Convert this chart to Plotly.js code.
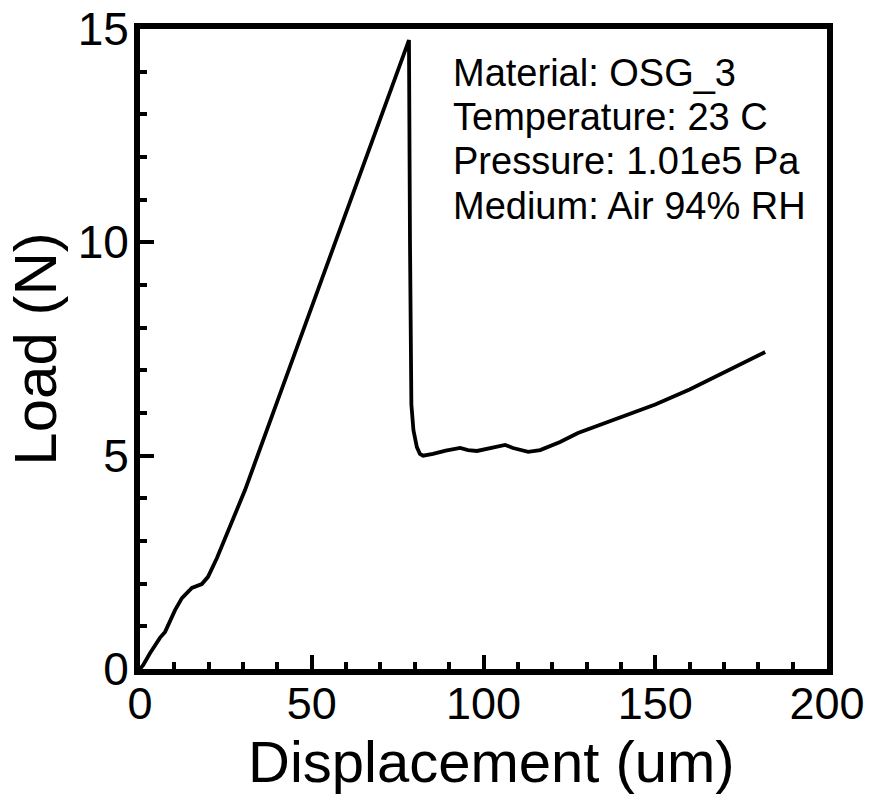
<!DOCTYPE html>
<html>
<head>
<meta charset="utf-8">
<script src="https://cdn.plot.ly/plotly-3.0.1.min.js"></script>
<style>
html,body{margin:0;padding:0;background:#fff;}
#chart{width:870px;height:812px;}
</style>
</head>
<body>
<div id="chart"></div>
<script>
// Displacement (um) and Load (N)
const displacement = [0, 0.9, 2.9, 5.8, 7.3, 10.2, 12.2, 15.1, 18.0, 19.8, 22.4, 26.2, 30.6, 40, 50, 60, 70, 78.3,
  78.6, 78.8, 79.0, 79.6, 80.6, 81.5, 82.4, 85.3, 89.0, 93.2, 95.5, 98.1, 102.0, 106.3, 108.6, 113.0, 116.5,
  122.3, 127.5, 140, 150, 160, 170, 182];
const load = [0, 0.09, 0.37, 0.73, 0.87, 1.38, 1.66, 1.90, 1.99, 2.16, 2.60, 3.33, 4.20, 6.28, 8.49, 10.70, 12.90, 14.74,
  10.0, 6.8, 6.2, 5.6, 5.2, 5.04, 5.00, 5.04, 5.12, 5.18, 5.13, 5.11, 5.17, 5.25, 5.18, 5.09, 5.13,
  5.32, 5.53, 5.90, 6.20, 6.55, 6.95, 7.43];

const xTickVals = [0, 50, 100, 150, 200];
const yTickVals = [0, 5, 10, 15];
const xTitle = "Displacement (um)";
const yTitle = "Load (N)";
const infoLines = ["Material: OSG_3", "Temperature: 23 C", "Pressure: 1.01e5 Pa", "Medium: Air 94% RH"];
const infoY = [13.96, 12.93, 11.90, 10.86];

const font = "Liberation Sans, Arial, sans-serif";

const trace = {
  x: displacement, y: load, type: "scatter", mode: "lines",
  line: {color: "#000", width: 3.8}, hoverinfo: "skip"
};

const annotations = infoLines.map((t, i) => ({
  xref: "x", yref: "y", x: 90.8, y: infoY[i], xanchor: "left", yanchor: "middle",
  text: t, align: "left", showarrow: false, borderpad: 0,
  font: {size: 38, family: font, color: "#000"}
}));
annotations.push({
  xref: "paper", yref: "paper", x: 0.511, y: -0.144, xanchor: "center", yanchor: "middle",
  text: xTitle, showarrow: false, borderpad: 0,
  font: {size: 58, family: font, color: "#000"}
});

const layout = {
  width: 870, height: 812,
  margin: {l: 140, r: 43, t: 29, b: 143},
  paper_bgcolor: "#fff", plot_bgcolor: "#fff",
  showlegend: false,
  font: {family: font, color: "#000"},
  xaxis: {
    range: [0, 200], tickvals: xTickVals, ticktext: xTickVals.map(String),
    ticks: "inside", ticklen: 14, tickwidth: 4, tickcolor: "#000",
    minor: {dtick: 10, ticks: "inside", ticklen: 7, tickwidth: 4, tickcolor: "#000", showgrid: false},
    showline: true, linewidth: 6, linecolor: "#000", mirror: true,
    showgrid: false, zeroline: false,
    ticklabelstandoff: -10,
    tickfont: {size: 45, family: font, color: "#000"}
  },
  yaxis: {
    range: [0, 15], tickvals: yTickVals, ticktext: yTickVals.map(String),
    ticks: "inside", ticklen: 14, tickwidth: 4, tickcolor: "#000",
    minor: {dtick: 1, ticks: "inside", ticklen: 7, tickwidth: 4, tickcolor: "#000", showgrid: false},
    showline: true, linewidth: 6, linecolor: "#000", mirror: true,
    showgrid: false, zeroline: false,
    ticklabelstandoff: -4,
    tickfont: {size: 46, family: font, color: "#000"},
    title: {text: yTitle, font: {size: 60, family: font, color: "#000"}, standoff: 4}
  },
  annotations: annotations
};

Plotly.newPlot("chart", [trace], layout, {displayModeBar: false, staticPlot: true});
</script>
</body>
</html>
